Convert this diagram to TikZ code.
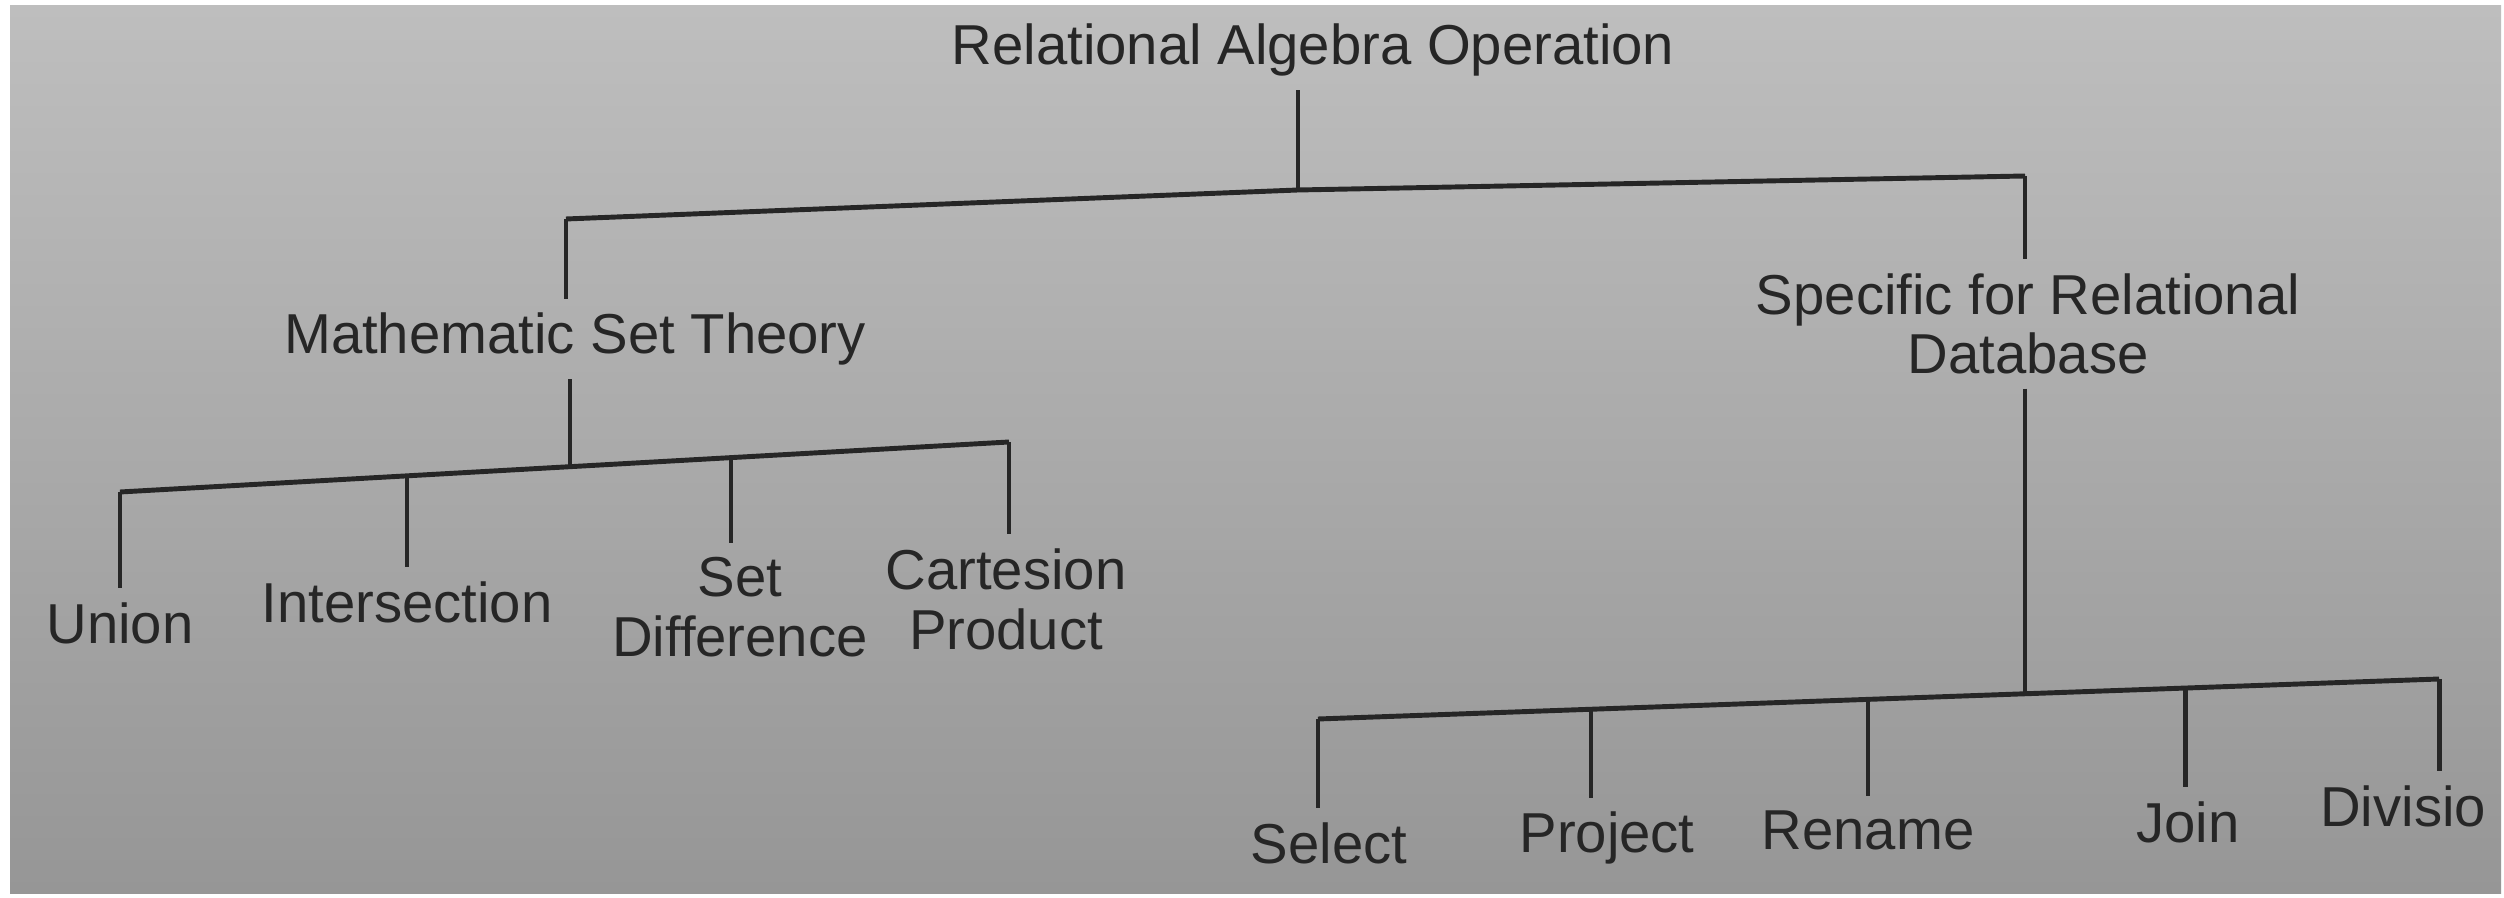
\documentclass[tikz,border=0pt]{standalone}
\usepackage{fontspec}
\setmainfont{Liberation Sans}
\usepackage{xcolor}
\usepackage{tikz}
\usetikzlibrary{calc}

\definecolor{paperTop}{RGB}{190,190,190}
\definecolor{paperBot}{RGB}{150,150,150}
\definecolor{ink}{RGB}{38,38,38}

\begin{document}
\begin{tikzpicture}[x=0.01cm, y=-0.01cm,
  lbl/.style={text=ink, align=center, inner sep=1pt, outer sep=3pt, font=\fontsize{16}{17}\selectfont},
  conn/.style={draw=ink, line width=1.4pt}
]
  \useasboundingbox (0,0) rectangle (2504,898);
  \clip (0,0) rectangle (2504,898);
  \shade[top color=paperTop, bottom color=paperBot] (10,6) rectangle (2501,893);

  % labels
  \node[lbl] (rootOp)       at (1313,50)  {Relational Algebra Operation};
  \node[lbl] (mathSet)      at (575,339)  {Mathematic Set Theory};
  \node[lbl] (specRel)      at (2028,324) {Specific for Relational\\Database};
  \node[lbl] (union)        at (120,623)  {Union};
  \node[lbl] (intersection) at (407,602)  {Intersection};
  \node[lbl] (setDiff)      at (740,607)  {Set\\Difference};
  \node[lbl] (cartProd)     at (1006,599) {Cartesion\\Product};
  \node[lbl] (select)       at (1329,843) {Select};
  \node[lbl] (project)      at (1607,838) {Project};
  \node[lbl] (rename)       at (1868,830) {Rename};
  \node[lbl] (join)         at (2188,822) {Join};
  \node[lbl, anchor=east] (division) at (2500,806) {Divisio};

  % bar junctions
  \coordinate (topL)    at (566,219);
  \coordinate (topM)    at (1298,190);
  \coordinate (topR)    at (2025,176);
  \coordinate (jUnion)  at (120,492);
  \coordinate (jInter)  at (407,476);
  \coordinate (jMath)   at (570,467);
  \coordinate (jSetD)   at (731,458);
  \coordinate (jCart)   at (1009,442);
  \coordinate (jSelect) at (1318,719);
  \coordinate (jProj)   at (1591,709);
  \coordinate (jRen)    at (1868,699);
  \coordinate (jSpec)   at (2025,694);
  \coordinate (jJoin)   at (2185,688);
  \coordinate (jDiv)    at (2439,679);

  \draw[conn] (topM |- rootOp.south) -- (topM);
  \draw[conn] (topL) -- (topM) -- (topR);
  \draw[conn] (topL) -- (topL |- mathSet.north);
  \draw[conn] (topR) -- (topR |- specRel.north);

  \draw[conn] (jMath |- mathSet.south) -- (jMath);
  \draw[conn] (jUnion) -- (jCart);
  \draw[conn] (jUnion) -- (jUnion |- union.north);
  \draw[conn] (jInter) -- (jInter |- intersection.north);
  \draw[conn] (jSetD)  -- (jSetD |- setDiff.north);
  \draw[conn] (jCart)  -- (jCart |- cartProd.north);

  \draw[conn] (jSpec |- specRel.south) -- (jSpec);
  \draw[conn] (jSelect) -- (jDiv);
  \draw[conn] (jSelect) -- (jSelect |- select.north);
  \draw[conn] (jProj)   -- (jProj |- project.north);
  \draw[conn] (jRen)    -- (jRen |- rename.north);
  \draw[conn] (jJoin)   -- (jJoin |- join.north);
  \draw[conn] (jDiv)    -- (jDiv |- division.north);
\end{tikzpicture}
\end{document}
